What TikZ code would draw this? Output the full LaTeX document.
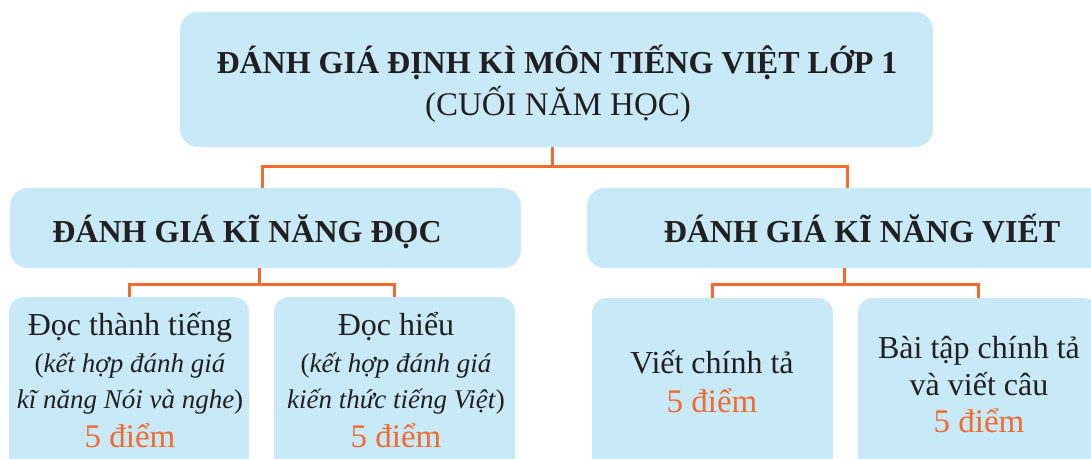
\documentclass[tikz,border=0pt]{standalone}
\usepackage{fontspec}
\setmainfont{Liberation Serif}
\definecolor{boxblue}{HTML}{C7E9F8}
\definecolor{lineor}{HTML}{F26A2E}
\definecolor{ink}{HTML}{231F20}
\begin{document}
\begin{tikzpicture}[x=1pt,y=-1pt,
  box/.style={fill=boxblue, draw=none, rounded corners=18pt, inner sep=0pt},
  smallbox/.style={box, rounded corners=15pt, minimum width=240pt, minimum height=178pt},
  conn/.style={draw=lineor, line width=3pt},
  head/.style={anchor=base, inner sep=0pt, text=ink, font=\fontsize{32}{36}\selectfont\bfseries},
  sub/.style={anchor=base, inner sep=0pt, text=ink, font=\fontsize{33}{36}\selectfont},
  txt/.style={anchor=base, inner sep=0pt, text=ink, font=\fontsize{32}{36}\selectfont},
  itxt/.style={anchor=base, inner sep=0pt, text=ink, font=\fontsize{27}{36}\selectfont},
  pts/.style={anchor=base, inner sep=0pt, text=lineor, font=\fontsize{33}{36}\selectfont}]
\useasboundingbox (0,0) rectangle (1091,458);
\clip (0,0) rectangle (1091,458);
% boxes
\node[box, minimum width=753pt, minimum height=135pt] (top) at (556.5,79.5) {};
\node[box, minimum width=511pt, minimum height=80pt] (l2a) at (265.5,228) {};
\node[box, minimum width=520pt, minimum height=80pt] (l2b) at (847,228) {};
\node[smallbox] (l3a) at (129,386) {};
\node[smallbox, minimum width=241pt] (l3b) at (394.5,386) {};
\node[smallbox, minimum width=241pt] (l3c) at (712.5,387) {};
\node[smallbox] (l3d) at (978,387) {};
% connectors
\draw[conn] ([xshift=-4.5pt]top.south) -- ++(0,19) coordinate (j1);
\draw[conn] ([xshift=-3.5pt]l2a.north) |- (j1) -| (l2b.north);
\draw[conn] ([xshift=-6pt]l2a.south) -- ++(0,16) coordinate (j2);
\draw[conn] (l3a.north) |- (j2) -| (l3b.north);
\draw[conn] ([xshift=-3pt]l2b.south) -- ++(0,16) coordinate (j3);
\draw[conn] (l3c.north) |- (j3) -| (l3d.north);
% texts
\node[head] (t1) at (557,73) {ĐÁNH GIÁ ĐỊNH KÌ MÔN TIẾNG VIỆT LỚP 1};
\node[sub] (t2) at (558,115) {(CUỐI NĂM HỌC)};
\node[head] (h1) at (247,242) {ĐÁNH GIÁ KĨ NĂNG ĐỌC};
\node[head] (h2) at (862,242) {ĐÁNH GIÁ KĨ NĂNG VIẾT};
\node[txt] (a1) at (130,335) {Đọc thành tiếng};
\node[itxt] (a2) at (130,372) {(\textit{kết hợp đánh giá}};
\node[itxt] (a3) at (130,408) {\textit{kĩ năng Nói và nghe})};
\node[pts] (a4) at (130,447) {5 điểm};
\node[txt] (b1) at (396,335) {Đọc hiểu};
\node[itxt] (b2) at (396,372) {(\textit{kết hợp đánh giá}};
\node[itxt] (b3) at (396,408) {\textit{kiến thức tiếng Việt})};
\node[pts] (b4) at (396,447) {5 điểm};
\node[txt] (c1) at (712,373) {Viết chính tả};
\node[pts] (c2) at (712,412) {5 điểm};
\node[txt] (d1) at (979,358) {Bài tập chính tả};
\node[txt] (d2) at (979,395) {và viết câu};
\node[pts] (d3) at (979,432) {5 điểm};
\end{tikzpicture}
\end{document}
